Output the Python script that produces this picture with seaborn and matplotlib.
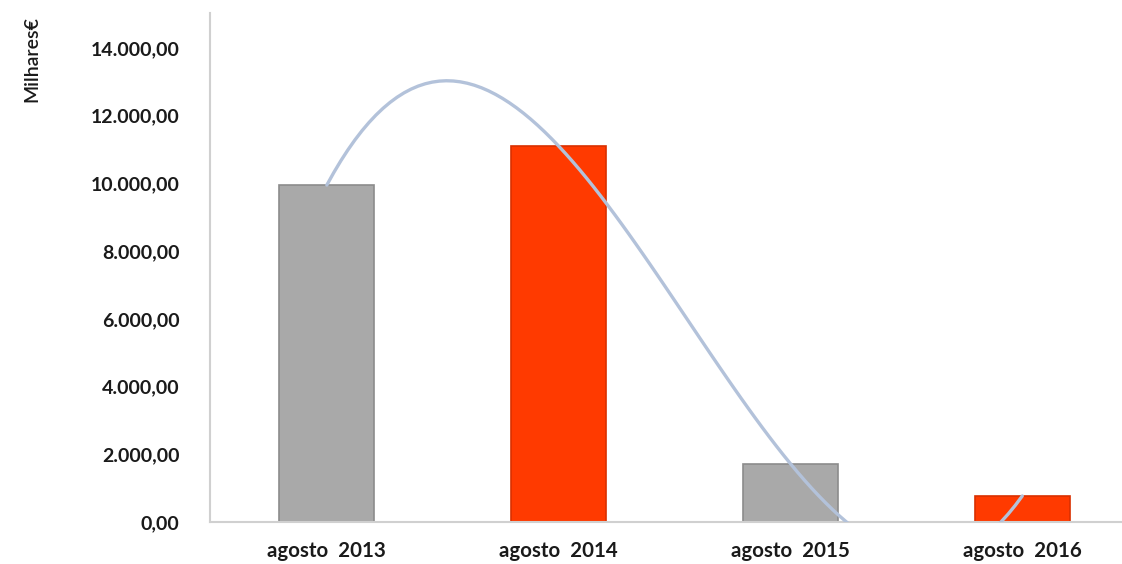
import matplotlib
matplotlib.use("Agg")
import matplotlib.pyplot as plt
import seaborn as sns
import pandas as pd
import numpy as np
from matplotlib.ticker import FuncFormatter

categories = ["agosto  2013", "agosto  2014", "agosto  2015", "agosto  2016"]
values = [9950, 11100, 1720, 770]
bar_colors = ["#A9A9A9", "#FF3A00", "#A9A9A9", "#FF3A00"]
edge_colors = ["#8C8C8C", "#D93000", "#8C8C8C", "#D93000"]
yticks = [0, 2000, 4000, 6000, 8000, 10000, 12000, 14000]

sns.set_theme(style="white")
plt.rcParams["font.family"] = ["Lato", "DejaVu Sans"]

df = pd.DataFrame({"cat": categories, "val": values, "pos": range(len(categories))})

fig = plt.figure(figsize=(11.22, 5.64), dpi=100)
ax = fig.add_axes([210 / 1122, 1 - 522 / 564, 1 - 210 / 1122, (522 - 13) / 564])

sns.barplot(data=df, x="cat", y="val", hue="cat", palette=bar_colors, legend=False,
            width=0.41, ax=ax, saturation=1, zorder=2)
for patch, ec in zip(ax.patches, edge_colors):
    patch.set_edgecolor(ec)
    patch.set_linewidth(1.2)

sns.regplot(data=df, x="pos", y="val", order=3, ci=None, scatter=False, truncate=True,
            line_kws={"color": "#B3C2DA", "lw": 2.4, "zorder": 3}, ax=ax)

ax.set_xlim(-0.504, 3.43)
ax.set_ylim(0, 15030)
ax.set_yticks(yticks)
ax.yaxis.set_major_formatter(FuncFormatter(
    lambda v, p: f"{v:,.2f}".replace(",", "X").replace(".", ",").replace("X", ".")))
ax.set_xlabel("")
ax.set_ylabel("")

for s in ["top", "right"]:
    ax.spines[s].set_visible(False)
for s in ["left", "bottom"]:
    ax.spines[s].set_color("#D0D0D0")
    ax.spines[s].set_linewidth(1.5)

ax.tick_params(axis="y", length=0, pad=22, labelsize=14, labelcolor="#1A1A1A")
ax.tick_params(axis="x", length=0, pad=14, labelsize=14.8, labelcolor="#1A1A1A")
for lbl in ax.get_yticklabels() + ax.get_xticklabels():
    lbl.set_fontweight("bold")

fig.text(32 / 1122, 1 - 16 / 564, "Milhares€", rotation=90, ha="center", va="top",
         fontsize=14, fontweight="semibold", color="#1A1A1A")

fig.savefig("out.png", dpi=100, facecolor="white")
